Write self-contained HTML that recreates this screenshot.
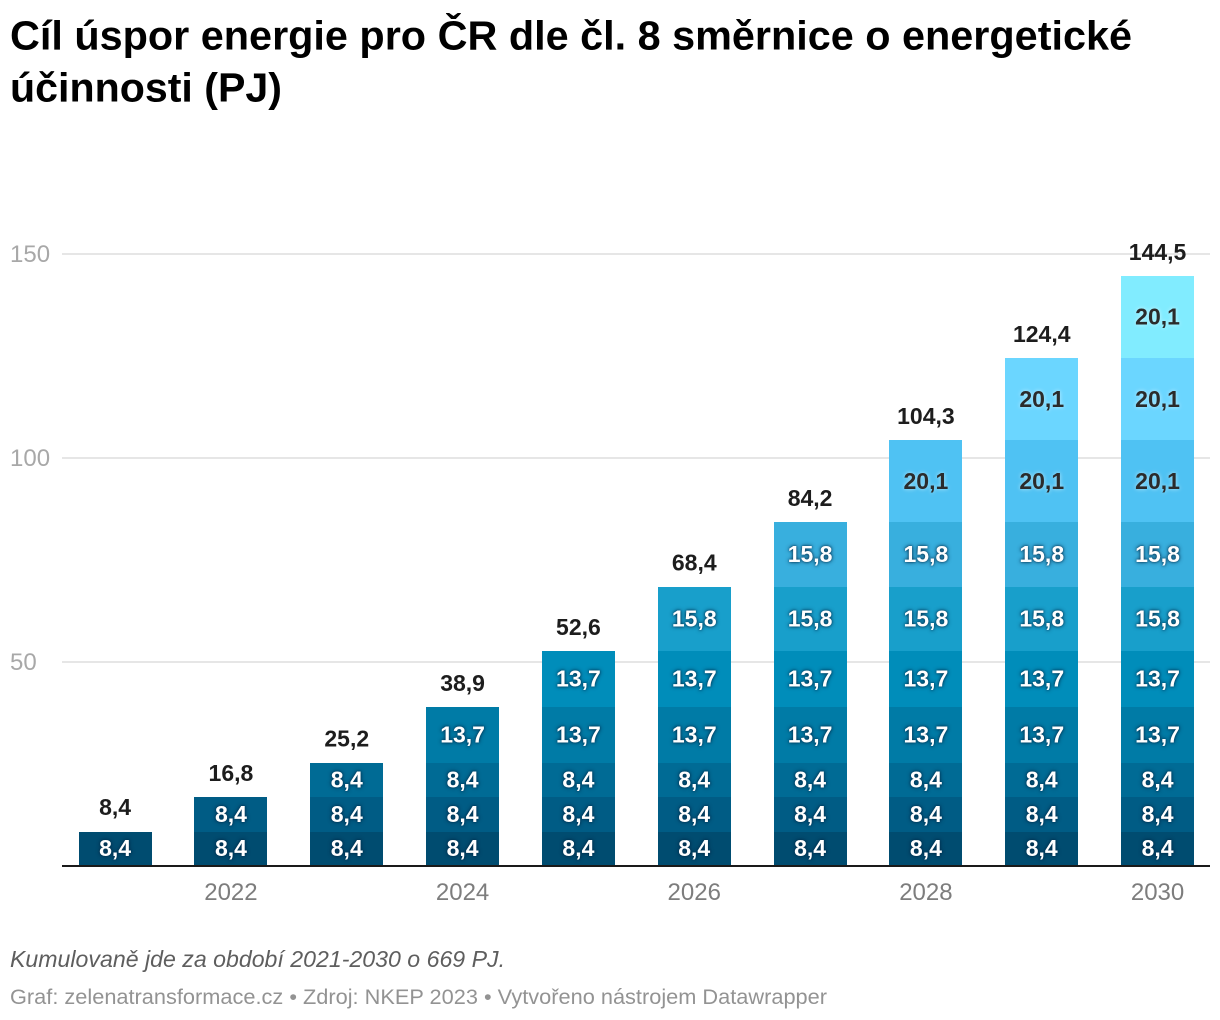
<!DOCTYPE html>
<html lang="cs">
<head>
<meta charset="utf-8">
<title>Cíl úspor energie pro ČR</title>
<style>
html,body{margin:0;padding:0;background:#fff;width:1220px;height:1020px;overflow:hidden}
svg{display:block;font-family:"Liberation Sans",Arial,sans-serif}
.seg-label{font-size:23px;font-weight:700;text-anchor:middle}
.seg-light{fill:#fff;text-shadow:0 0 4px rgba(0,40,70,.9),0 0 2px rgba(0,40,70,.7)}
.seg-dark{fill:#2b2b2b;text-shadow:0 0 4px rgba(255,255,255,.6)}
.total-label{font-size:23px;font-weight:700;text-anchor:middle;fill:#1d1d1d}
</style>
</head>
<body>
<svg id="chart" width="1220" height="1020" viewBox="0 0 1220 1020" xmlns="http://www.w3.org/2000/svg">
  <g font-size="41" font-weight="700" fill="#000">
    <text x="10" y="49.5" textLength="1122" lengthAdjust="spacingAndGlyphs">Cíl úspor energie pro ČR dle čl. 8 směrnice o energetické</text>
    <text x="10" y="101.5" textLength="272" lengthAdjust="spacingAndGlyphs">účinnosti (PJ)</text>
  </g>
  <g id="grid"></g>
  <g id="yticks"></g>
  <g id="bars" shape-rendering="crispEdges"></g>
  <g id="labels"></g>
  <g id="totals"></g>
  <rect x="62" y="865" width="1148" height="2" fill="#1a1a1a"/>
  <g id="xticks"></g>
  <text x="10" y="967" font-size="23" font-style="italic" fill="#5e5e5e" textLength="495" lengthAdjust="spacingAndGlyphs">Kumulovaně jde za období 2021-2030 o 669 PJ.</text>
  <text x="10" y="1004" font-size="21.5" fill="#939393" textLength="817" lengthAdjust="spacingAndGlyphs">Graf: zelenatransformace.cz • Zdroj: NKEP 2023 • Vytvořeno nástrojem Datawrapper</text>
</svg>
<script>
const categories = [2021, 2022, 2023, 2024, 2025, 2026, 2027, 2028, 2029, 2030];
const xTickLabels = [2022, 2024, 2026, 2028, 2030];
const yTickLabels = [50, 100, 150];
const tranche1 = [8.4, 8.4, 8.4, 8.4, 8.4, 8.4, 8.4, 8.4, 8.4, 8.4];
const tranche2 = [0, 8.4, 8.4, 8.4, 8.4, 8.4, 8.4, 8.4, 8.4, 8.4];
const tranche3 = [0, 0, 8.4, 8.4, 8.4, 8.4, 8.4, 8.4, 8.4, 8.4];
const tranche4 = [0, 0, 0, 13.7, 13.7, 13.7, 13.7, 13.7, 13.7, 13.7];
const tranche5 = [0, 0, 0, 0, 13.7, 13.7, 13.7, 13.7, 13.7, 13.7];
const tranche6 = [0, 0, 0, 0, 0, 15.8, 15.8, 15.8, 15.8, 15.8];
const tranche7 = [0, 0, 0, 0, 0, 0, 15.8, 15.8, 15.8, 15.8];
const tranche8 = [0, 0, 0, 0, 0, 0, 0, 20.1, 20.1, 20.1];
const tranche9 = [0, 0, 0, 0, 0, 0, 0, 0, 20.1, 20.1];
const tranche10 = [0, 0, 0, 0, 0, 0, 0, 0, 0, 20.1];
const allSeries = [tranche1, tranche2, tranche3, tranche4, tranche5, tranche6, tranche7, tranche8, tranche9, tranche10];
const seriesColors = ['#004c70', '#005c85', '#006b95', '#007ba6', '#008dba', '#189fcb', '#38afde', '#4fc2f3', '#6bd6ff', '#81ecff'];

const NS = 'http://www.w3.org/2000/svg';
const y = v => 866 - v * 4.08;
const x = i => 78.6 + i * 115.83;
const barWidth = 73;
const fmt = v => v.toFixed(1).replace('.', ',');
const make = (tag, parent) => parent.appendChild(document.createElementNS(NS, tag));

const grid = document.getElementById('grid');
const yticks = document.getElementById('yticks');
yTickLabels.forEach(t => {
  const line = make('rect', grid);
  
  
  line.setAttribute('x', 62);
  line.setAttribute('y', y(t) - 1);
  line.setAttribute('width', 1148);
  line.setAttribute('height', 2);
  line.setAttribute('fill', '#e6e6e6');
  const label = make('text', yticks);
  
  
  label.setAttribute('x', 10);
  label.setAttribute('y', y(t) + 8);
  label.setAttribute('font-size', 24);
  label.setAttribute('fill', '#a8a8a8');
  label.textContent = t;
});

const bars = document.getElementById('bars');
const labels = document.getElementById('labels');
const totals = document.getElementById('totals');
categories.forEach((cat, i) => {
  let sum = 0;
  allSeries.forEach((series, s) => {
    const v = series[i];
    if (!v) return;
    const top = y(sum + v);
    const bottom = y(sum);
    const rTop = Math.round(top - 0.02);
    const rBottom = Math.min(Math.round(bottom - 0.02), 865);
    const rect = make('rect', bars);
    
    
    rect.setAttribute('x', Math.round(x(i)));
    rect.setAttribute('y', rTop);
    rect.setAttribute('width', barWidth);
    rect.setAttribute('height', rBottom - rTop);
    rect.setAttribute('fill', seriesColors[s]);
    const text = make('text', labels);
    
    
    text.setAttribute('class', 'seg-label ' + (s >= 7 ? 'seg-dark' : 'seg-light'));
    text.setAttribute('x', x(i) + barWidth / 2);
    text.setAttribute('y', (top + bottom) / 2 + 7.3);
    text.textContent = fmt(v);
    sum += v;
  });
  const total = make('text', totals);
  
  
  total.setAttribute('class', 'total-label');
  total.setAttribute('x', x(i) + barWidth / 2);
  total.setAttribute('y', y(sum) - 16.5);
  total.textContent = fmt(sum);
});

const xticks = document.getElementById('xticks');
xTickLabels.forEach(t => {
  const label = make('text', xticks);
  
  
  label.setAttribute('x', x(categories.indexOf(t)) + barWidth / 2);
  label.setAttribute('y', 900);
  label.setAttribute('font-size', 24);
  label.setAttribute('text-anchor', 'middle');
  label.setAttribute('fill', '#7d7d7d');
  label.textContent = t;
});
</script>
</body>
</html>
